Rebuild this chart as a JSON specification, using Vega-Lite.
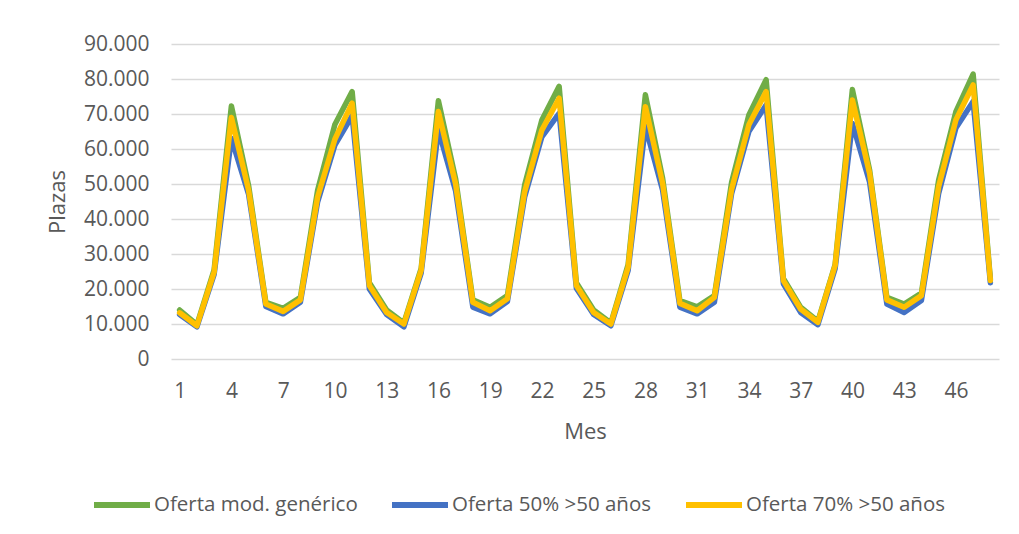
{
  "$schema": "https://vega.github.io/schema/vega-lite/v6.json",
  "width": 828,
  "height": 315,
  "autosize": {"type": "none"},
  "padding": {"left": 171, "top": 44, "right": 20, "bottom": 175},
  "background": "white",
  "config": {
    "view": {"stroke": null},
    "font": "Open Sans"
  },
  "data": {
    "values": [
      {"mes":1,"serie":"Oferta mod. genérico","plazas":14000},
      {"mes":2,"serie":"Oferta mod. genérico","plazas":9800},
      {"mes":3,"serie":"Oferta mod. genérico","plazas":25500},
      {"mes":4,"serie":"Oferta mod. genérico","plazas":72300},
      {"mes":5,"serie":"Oferta mod. genérico","plazas":49500},
      {"mes":6,"serie":"Oferta mod. genérico","plazas":16200},
      {"mes":7,"serie":"Oferta mod. genérico","plazas":14500},
      {"mes":8,"serie":"Oferta mod. genérico","plazas":17600},
      {"mes":9,"serie":"Oferta mod. genérico","plazas":48200},
      {"mes":10,"serie":"Oferta mod. genérico","plazas":67000},
      {"mes":11,"serie":"Oferta mod. genérico","plazas":76400},
      {"mes":12,"serie":"Oferta mod. genérico","plazas":21800},
      {"mes":13,"serie":"Oferta mod. genérico","plazas":14000},
      {"mes":14,"serie":"Oferta mod. genérico","plazas":10300},
      {"mes":15,"serie":"Oferta mod. genérico","plazas":25800},
      {"mes":16,"serie":"Oferta mod. genérico","plazas":73800},
      {"mes":17,"serie":"Oferta mod. genérico","plazas":51500},
      {"mes":18,"serie":"Oferta mod. genérico","plazas":16900},
      {"mes":19,"serie":"Oferta mod. genérico","plazas":14800},
      {"mes":20,"serie":"Oferta mod. genérico","plazas":18100},
      {"mes":21,"serie":"Oferta mod. genérico","plazas":49700},
      {"mes":22,"serie":"Oferta mod. genérico","plazas":68300},
      {"mes":23,"serie":"Oferta mod. genérico","plazas":77900},
      {"mes":24,"serie":"Oferta mod. genérico","plazas":21800},
      {"mes":25,"serie":"Oferta mod. genérico","plazas":14000},
      {"mes":26,"serie":"Oferta mod. genérico","plazas":10300},
      {"mes":27,"serie":"Oferta mod. genérico","plazas":27000},
      {"mes":28,"serie":"Oferta mod. genérico","plazas":75500},
      {"mes":29,"serie":"Oferta mod. genérico","plazas":51600},
      {"mes":30,"serie":"Oferta mod. genérico","plazas":16700},
      {"mes":31,"serie":"Oferta mod. genérico","plazas":14900},
      {"mes":32,"serie":"Oferta mod. genérico","plazas":18100},
      {"mes":33,"serie":"Oferta mod. genérico","plazas":50500},
      {"mes":34,"serie":"Oferta mod. genérico","plazas":69700},
      {"mes":35,"serie":"Oferta mod. genérico","plazas":79800},
      {"mes":36,"serie":"Oferta mod. genérico","plazas":23000},
      {"mes":37,"serie":"Oferta mod. genérico","plazas":14800},
      {"mes":38,"serie":"Oferta mod. genérico","plazas":10800},
      {"mes":39,"serie":"Oferta mod. genérico","plazas":27000},
      {"mes":40,"serie":"Oferta mod. genérico","plazas":77000},
      {"mes":41,"serie":"Oferta mod. genérico","plazas":54000},
      {"mes":42,"serie":"Oferta mod. genérico","plazas":17600},
      {"mes":43,"serie":"Oferta mod. genérico","plazas":15700},
      {"mes":44,"serie":"Oferta mod. genérico","plazas":18800},
      {"mes":45,"serie":"Oferta mod. genérico","plazas":51100},
      {"mes":46,"serie":"Oferta mod. genérico","plazas":70700},
      {"mes":47,"serie":"Oferta mod. genérico","plazas":81400},
      {"mes":48,"serie":"Oferta mod. genérico","plazas":22800},
      {"mes":1,"serie":"Oferta 50% >50 años","plazas":12700},
      {"mes":2,"serie":"Oferta 50% >50 años","plazas":9200},
      {"mes":3,"serie":"Oferta 50% >50 años","plazas":24200},
      {"mes":4,"serie":"Oferta 50% >50 años","plazas":63000},
      {"mes":5,"serie":"Oferta 50% >50 años","plazas":47000},
      {"mes":6,"serie":"Oferta 50% >50 años","plazas":15000},
      {"mes":7,"serie":"Oferta 50% >50 años","plazas":12900},
      {"mes":8,"serie":"Oferta 50% >50 años","plazas":16200},
      {"mes":9,"serie":"Oferta 50% >50 años","plazas":44900},
      {"mes":10,"serie":"Oferta 50% >50 años","plazas":61100},
      {"mes":11,"serie":"Oferta 50% >50 años","plazas":69500},
      {"mes":12,"serie":"Oferta 50% >50 años","plazas":20000},
      {"mes":13,"serie":"Oferta 50% >50 años","plazas":12700},
      {"mes":14,"serie":"Oferta 50% >50 años","plazas":9200},
      {"mes":15,"serie":"Oferta 50% >50 años","plazas":24500},
      {"mes":16,"serie":"Oferta 50% >50 años","plazas":65400},
      {"mes":17,"serie":"Oferta 50% >50 años","plazas":48000},
      {"mes":18,"serie":"Oferta 50% >50 años","plazas":14800},
      {"mes":19,"serie":"Oferta 50% >50 años","plazas":12900},
      {"mes":20,"serie":"Oferta 50% >50 años","plazas":16400},
      {"mes":21,"serie":"Oferta 50% >50 años","plazas":46300},
      {"mes":22,"serie":"Oferta 50% >50 años","plazas":63500},
      {"mes":23,"serie":"Oferta 50% >50 años","plazas":70200},
      {"mes":24,"serie":"Oferta 50% >50 años","plazas":20200},
      {"mes":25,"serie":"Oferta 50% >50 años","plazas":12700},
      {"mes":26,"serie":"Oferta 50% >50 años","plazas":9500},
      {"mes":27,"serie":"Oferta 50% >50 años","plazas":25300},
      {"mes":28,"serie":"Oferta 50% >50 años","plazas":66400},
      {"mes":29,"serie":"Oferta 50% >50 años","plazas":48200},
      {"mes":30,"serie":"Oferta 50% >50 años","plazas":14800},
      {"mes":31,"serie":"Oferta 50% >50 años","plazas":12900},
      {"mes":32,"serie":"Oferta 50% >50 años","plazas":16200},
      {"mes":33,"serie":"Oferta 50% >50 años","plazas":47300},
      {"mes":34,"serie":"Oferta 50% >50 años","plazas":65000},
      {"mes":35,"serie":"Oferta 50% >50 años","plazas":72600},
      {"mes":36,"serie":"Oferta 50% >50 años","plazas":21500},
      {"mes":37,"serie":"Oferta 50% >50 años","plazas":13300},
      {"mes":38,"serie":"Oferta 50% >50 años","plazas":9800},
      {"mes":39,"serie":"Oferta 50% >50 años","plazas":25800},
      {"mes":40,"serie":"Oferta 50% >50 años","plazas":67300},
      {"mes":41,"serie":"Oferta 50% >50 años","plazas":50500},
      {"mes":42,"serie":"Oferta 50% >50 años","plazas":15700},
      {"mes":43,"serie":"Oferta 50% >50 años","plazas":13300},
      {"mes":44,"serie":"Oferta 50% >50 años","plazas":16700},
      {"mes":45,"serie":"Oferta 50% >50 años","plazas":47300},
      {"mes":46,"serie":"Oferta 50% >50 años","plazas":66000},
      {"mes":47,"serie":"Oferta 50% >50 años","plazas":73600},
      {"mes":48,"serie":"Oferta 50% >50 años","plazas":21800},
      {"mes":1,"serie":"Oferta 70% >50 años","plazas":13200},
      {"mes":2,"serie":"Oferta 70% >50 años","plazas":9500},
      {"mes":3,"serie":"Oferta 70% >50 años","plazas":24800},
      {"mes":4,"serie":"Oferta 70% >50 años","plazas":69000},
      {"mes":5,"serie":"Oferta 70% >50 años","plazas":48200},
      {"mes":6,"serie":"Oferta 70% >50 años","plazas":15700},
      {"mes":7,"serie":"Oferta 70% >50 años","plazas":13600},
      {"mes":8,"serie":"Oferta 70% >50 años","plazas":16900},
      {"mes":9,"serie":"Oferta 70% >50 años","plazas":46300},
      {"mes":10,"serie":"Oferta 70% >50 años","plazas":62800},
      {"mes":11,"serie":"Oferta 70% >50 años","plazas":73100},
      {"mes":12,"serie":"Oferta 70% >50 años","plazas":21000},
      {"mes":13,"serie":"Oferta 70% >50 años","plazas":13300},
      {"mes":14,"serie":"Oferta 70% >50 años","plazas":10000},
      {"mes":15,"serie":"Oferta 70% >50 años","plazas":25300},
      {"mes":16,"serie":"Oferta 70% >50 años","plazas":70700},
      {"mes":17,"serie":"Oferta 70% >50 años","plazas":50000},
      {"mes":18,"serie":"Oferta 70% >50 años","plazas":16200},
      {"mes":19,"serie":"Oferta 70% >50 años","plazas":13800},
      {"mes":20,"serie":"Oferta 70% >50 años","plazas":17200},
      {"mes":21,"serie":"Oferta 70% >50 años","plazas":47700},
      {"mes":22,"serie":"Oferta 70% >50 años","plazas":65400},
      {"mes":23,"serie":"Oferta 70% >50 años","plazas":74500},
      {"mes":24,"serie":"Oferta 70% >50 años","plazas":21000},
      {"mes":25,"serie":"Oferta 70% >50 años","plazas":13300},
      {"mes":26,"serie":"Oferta 70% >50 años","plazas":10000},
      {"mes":27,"serie":"Oferta 70% >50 años","plazas":26200},
      {"mes":28,"serie":"Oferta 70% >50 años","plazas":72100},
      {"mes":29,"serie":"Oferta 70% >50 años","plazas":50100},
      {"mes":30,"serie":"Oferta 70% >50 años","plazas":15900},
      {"mes":31,"serie":"Oferta 70% >50 años","plazas":13800},
      {"mes":32,"serie":"Oferta 70% >50 años","plazas":17600},
      {"mes":33,"serie":"Oferta 70% >50 años","plazas":48500},
      {"mes":34,"serie":"Oferta 70% >50 años","plazas":66900},
      {"mes":35,"serie":"Oferta 70% >50 años","plazas":76400},
      {"mes":36,"serie":"Oferta 70% >50 años","plazas":22400},
      {"mes":37,"serie":"Oferta 70% >50 años","plazas":14300},
      {"mes":38,"serie":"Oferta 70% >50 años","plazas":10500},
      {"mes":39,"serie":"Oferta 70% >50 años","plazas":26700},
      {"mes":40,"serie":"Oferta 70% >50 años","plazas":74000},
      {"mes":41,"serie":"Oferta 70% >50 años","plazas":53000},
      {"mes":42,"serie":"Oferta 70% >50 años","plazas":16900},
      {"mes":43,"serie":"Oferta 70% >50 años","plazas":14800},
      {"mes":44,"serie":"Oferta 70% >50 años","plazas":18100},
      {"mes":45,"serie":"Oferta 70% >50 años","plazas":49200},
      {"mes":46,"serie":"Oferta 70% >50 años","plazas":68300},
      {"mes":47,"serie":"Oferta 70% >50 años","plazas":78300},
      {"mes":48,"serie":"Oferta 70% >50 años","plazas":22400}
    ]
  },
  "mark": {"type": "line", "strokeWidth": 5.5, "strokeJoin": "round", "strokeCap": "round"},
  "encoding": {
    "x": {
      "field": "mes", "type": "quantitative",
      "scale": {"domain": [0.5, 48.5], "nice": false, "zero": false},
      "axis": {
        "values": [1,4,7,10,13,16,19,22,25,28,31,34,37,40,43,46],
        "title": "Mes", "grid": false, "domain": false, "ticks": false,
        "labelFontSize": 21, "labelColor": "#595959", "labelPadding": 21,
        "titleFontSize": 22, "titleColor": "#595959", "titleFontWeight": "normal", "titlePadding": 20
      }
    },
    "y": {
      "field": "plazas", "type": "quantitative",
      "scale": {"domain": [0, 90000], "nice": false},
      "axis": {
        "values": [0,10000,20000,30000,40000,50000,60000,70000,80000,90000],
        "labelExpr": "replace(format(datum.value, ','), /,/g, '.')",
        "title": "Plazas", "domain": false, "ticks": false,
        "gridColor": "#d9d9d9", "gridWidth": 1.5,
        "labelFontSize": 21, "labelColor": "#595959", "labelPadding": 22,
        "titleFontSize": 22, "titleColor": "#595959", "titleFontWeight": "normal", "titlePadding": 14
      }
    },
    "color": {
      "field": "serie", "type": "nominal", "sort": null,
      "scale": {
        "domain": ["Oferta mod. genérico", "Oferta 50% >50 años", "Oferta 70% >50 años"],
        "range": ["#70AD47", "#4472C4", "#FFC000"]
      },
      "legend": {
        "title": null, "orient": "none", "direction": "horizontal",
        "legendX": -80, "legendY": 430,
        "symbolType": "stroke", "symbolSize": 3136, "symbolStrokeWidth": 6,
        "labelFontSize": 20.5, "labelColor": "#595959", "labelOffset": 1,
        "columnPadding": 22, "labelLimit": 400
      }
    }
  }
}
